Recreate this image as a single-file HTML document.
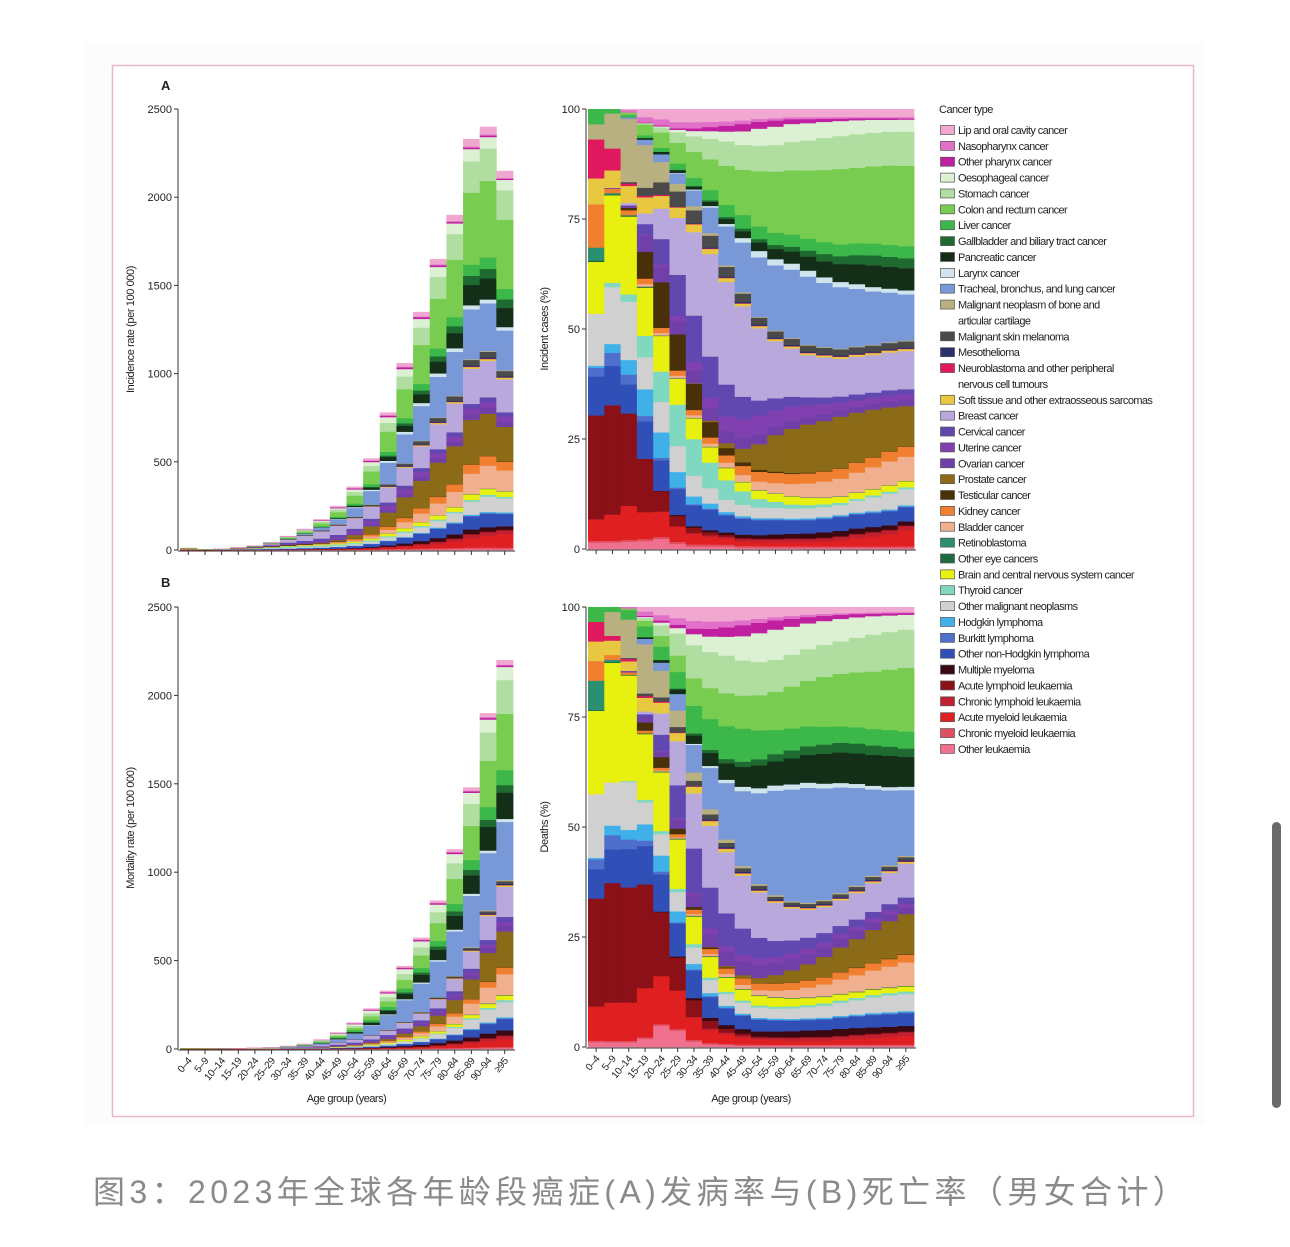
<!DOCTYPE html>
<html><head><meta charset="utf-8">
<style>
html,body{margin:0;padding:0;background:#fff;}
body{width:1290px;height:1247px;position:relative;overflow:hidden;font-family:"Liberation Sans",sans-serif;}
#cap{position:absolute;left:93px;top:1167px;font-family:"Liberation Sans","Noto Sans CJK SC",sans-serif;font-size:32px;color:#8a8a8a;letter-spacing:4.4px;white-space:nowrap;}
#sb{position:absolute;left:1272px;top:822px;width:9px;height:286px;border-radius:5px;background:#6a6a6a;}
</style></head>
<body>
<svg id="svg" width="1290" height="1247" xmlns="http://www.w3.org/2000/svg" style="position:absolute;left:0;top:0"></svg>
<div id="cap">图3：2023年全球各年龄段癌症(A)发病率与(B)死亡率（男女合计）</div>
<div id="sb"></div>
<script>
const C=["#f07090","#e05060","#e02020","#c02030","#8b1018","#3a0810","#3050b8","#4f6fcc","#40b0e8","#d0d0d0","#80d8c0","#e8f010","#1f6b40","#2a9070","#f0b090","#f08030","#4a3008","#8b6a18","#7040a8","#8040b0","#6048b0","#b8a8dc","#e8c840","#e01860","#283070","#4a4a4a","#b8b080","#7898d8","#d0e4ee","#142e18","#1e6a30","#3cb84a","#78cc50","#b0dea0","#dcf0d4","#c020a0","#e070c8","#f0a8d0"];
function f(v){return Array(20).fill(v);}
const I=[
[1.5,1.5,1.5,1.5,2,1,.5,.5,.5,.3,.3,.3,.3,.3,.3,.3,.3,.3,.3,.3],
f(.4),
[5,6,7,5,5,3,2,1.5,1.2,1,1,1,1,1,1.2,1.5,2,2.5,3,4],
[0,0,0,0,0,0,.2,.3,.4,.5,.6,.7,.8,.8,.8,.9,1,1,1,1],
[24,25,19,10,4,2,1,.6,.4,.3,.2,.2,.2,.2,.2,.2,.2,.2,.2,.2],
[0,0,0,0,.1,.2,.3,.4,.5,.7,.8,1,1.1,1.2,1.3,1.3,1.3,1.2,1.1,1],
[9,9,6,7,6,5,4,4,3.5,3.5,3.5,3.5,3.3,3.3,3.3,3.5,3.5,3.5,3.5,3.5],
[2,3,2,1,.5,.3,.2,.2,.2,.2,.2,.2,.2,.2,.2,.2,.2,.2,.2,.2],
[.5,2,3,5,5,3,1.5,1,.5,.4,.3,.3,.3,.3,.3,.3,.3,.3,.3,.3],
[12,13,12,6,6,5,4,3,2.5,2.5,2.5,2.5,2.5,2.5,2.5,2.5,3,3.5,4,4],
[0,1,1.5,4,6,8,7,5,4,3,2,1.5,1,.8,.7,.6,.5,.5,.5,.5],
[12,20,16,9,7,5,4,3,2.5,2,2,2,2,1.8,1.6,1.5,1.5,1.5,1.5,1.5],
[.3,.2,.2,.2,.1,.1,.1,.1,.1,.1,.1,.1,.1,.1,.1,.1,.1,.1,.1,.1],
[3,.3,.1,0,0,0,0,0,0,0,0,0,0,0,0,0,0,0,0,0],
[0,0,0,.5,.5,.5,.5,.6,1,1.5,2,2.5,3,3.5,4,4.5,5,5.5,6,6],
[10,1,1,1,1,1,1,1.2,1.5,2,2.3,2.5,2.5,2.5,2.5,2.5,2.5,2.5,2.5,2.5],
[0,0,.5,5,9,7,5,3,1.5,.8,.5,.3,.2,.2,.1,.1,.1,.1,.1,.1],
[0,0,0,0,0,0,.1,.3,1,3,6,9,11,12,12.5,13,12.5,12,11,10],
[0,.2,.5,3,3,2.5,2.5,2.5,2.5,2.5,2.3,2,2,1.8,1.7,1.6,1.5,1.5,1.5,1.5],
[0,0,0,.2,.5,1,1.5,2,3,4,4.5,4,3.5,3,2.5,2,1.7,1.5,1.5,1.5],
[0,0,0,2,5,8,9,8,6.5,5,3.5,3,2.5,2,1.7,1.5,1.4,1.3,1.3,1.2],
[0,0,.5,2,6,11,16,20,21,20,17,14,12,10.5,10,9.5,9.5,9.5,9.5,9.5],
[6,4,3.5,3,2.5,2,1.5,1,.8,.6,.5,.5,.5,.5,.5,.5,.5,.5,.5,.5],
[9,5,.5,.3,.2,.1,.1,.1,.1,.1,.1,.1,.1,.1,.1,.1,.1,.1,.1,.1],
[0,0,0,0,0,0,.1,.2,.2,.3,.3,.3,.3,.3,.3,.3,.3,.3,.3,.3],
[0,0,.3,1.5,2.5,3,2.5,2.3,2,1.8,1.6,1.5,1.5,1.5,1.5,1.5,1.5,1.5,1.5,1.5],
[3.5,8,13,8,4,1.5,.8,.5,.3,.3,.2,.2,.2,.2,.2,.2,.2,.2,.2,.2],
[0,0,.3,1,1.5,2,3,5,8,11,14,16,17,17,16,15.5,14.5,13.5,12.5,11.5],
[0,0,0,0,0,.1,.2,.3,.5,1,1.5,1.5,1.5,1.5,1.4,1.3,1.2,1.1,1,1],
[0,0,0,.3,.5,.5,.5,.8,1,1.5,2,2.5,3,3.5,4,4.5,5,5.5,5.5,5.5],
[0,0,0,0,0,.1,.2,.3,.4,.6,.8,1,1.2,1.5,1.8,2,2.3,2.5,2.5,2.5],
[3.5,1,.5,.5,.8,1.2,1.5,2,2.5,3,3,3,3,3,3,3,3,3,3,3],
[0,0,.5,2,3,4,5,6,8,10,13,15,16,17,18,19,19,19.5,20,20],
[0,0,0,.3,1,2,3,4,5,5.5,6,6.5,7,7.5,8,8.3,8.5,8.5,8.5,8.5],
[0,0,0,0,.2,.5,1,1.5,2,3,4,4.5,4.5,4.3,4,3.8,3.5,3.3,3,3],
[0,0,0,.1,.2,.3,.5,.8,1.2,1.6,1.6,1.5,1.2,1,.8,.6,.5,.4,.4,.3],
[0,0,.5,1,1.2,1.2,1.2,1,.9,.8,.7,.6,.5,.5,.4,.4,.3,.3,.3,.3],
[0,0,.2,1.5,2,2.5,2.5,2.5,2.5,2.5,2.3,2.2,2,2,2,2,2,2,2,2]];
const D=[
[1,1,1,1.5,4,3,1,.5,.4,.3,.3,.3,.3,.3,.3,.3,.3,.3,.3,.3],
f(.3),
[7,8,8,9,9,7,4,2.5,2,1.5,1.2,1.1,1,1,1,1.2,1.4,1.6,1.8,2],
[0,0,0,0,0,0,.2,.3,.4,.5,.5,.6,.7,.8,.8,.8,.9,.9,.9,.9],
[22,25,24,19,12,6,3,1.5,.8,.5,.3,.2,.2,.2,.2,.2,.2,.2,.2,.2],
[0,0,0,0,.1,.2,.4,.6,.8,1,1.2,1.4,1.5,1.6,1.7,1.7,1.6,1.5,1.4,1.3],
[6,7,8,7,7,6,5,4,3.5,3,2.8,2.7,2.6,2.6,2.6,2.7,2.8,3,3,3],
[2,3,2,1,.5,.2,.2,.2,.2,.2,.2,.2,.2,.2,.2,.2,.2,.2,.2,.2],
[.3,2,2,3,3,2,1,.6,.4,.3,.3,.3,.3,.3,.3,.3,.3,.3,.3,.3],
[13,9,10,4,4,3.5,3,2.5,2.5,2.5,2.5,2.5,2.6,2.8,3,3.2,3.5,3.8,4,4],
[0,0,.2,.5,.6,.6,.6,.5,.5,.5,.5,.5,.5,.5,.6,.6,.6,.6,.6,.6],
[17,25,22,12,11,9,5,4,3,2.5,2.3,2.2,2,1.8,1.6,1.5,1.4,1.3,1.2,1.2],
f(.15),
[6,.5,0,0,0,0,0,0,0,0,0,0,0,0,0,0,0,0,0,0],
[0,0,0,0,.2,.2,.3,.4,.6,.9,1.2,1.6,2,2.5,3,3.5,4,4.5,5,5.5],
[4,1,.5,.5,.5,.6,.8,1,1.2,1.5,1.7,1.8,1.8,1.8,1.8,1.8,1.8,1.8,1.8,1.8],
[0,0,0,1.5,2,1,.5,.3,.2,.1,.1,.1,.1,.1,.1,.1,.1,.1,.1,.1],
[0,0,0,0,0,0,0,.1,.3,.6,1.2,2,3,4,5,6,7,8,9,9.5],
[0,0,.3,1,1,1.5,2,2.5,3,3.2,3.2,3,2.8,2.6,2.4,2.2,2,1.8,1.6,1.5],
[0,0,0,0,.2,.4,.6,1,1.2,1.4,1.5,1.5,1.4,1.3,1.2,1.1,1,1,1,1],
[0,0,0,.5,3,6,8,8,7,6,5,4,3.3,2.8,2.4,2,1.8,1.6,1.5,1.4],
[0,0,0,.5,4,8,10,12,13,12,11,9.5,8,7,6.5,6.3,6.5,7,7.5,8],
[4,3,2,2.5,2,1.5,1.2,.9,.7,.5,.4,.4,.4,.4,.4,.4,.4,.4,.4,.4],
[4,1,.5,.3,.2,.1,.1,.1,.1,.1,.1,.1,.1,.1,.1,.1,.1,.1,.1,.1],
[0,0,0,0,0,0,0,.2,.3,.3,.3,.3,.3,.3,.3,.3,.3,.3,.3,.3],
[0,0,.2,.5,.8,1,1,1,.9,.8,.8,.7,.7,.7,.7,.7,.7,.7,.7,.7],
[0,5,8,9,5,3,1.5,1,.7,.5,.4,.4,.3,.3,.3,.3,.3,.3,.3,.3],
[0,0,0,1,1.5,3,5,8,12,17,22,26,28,29,28,26,24,21,18,15.5],
[0,0,0,0,0,0,.2,.4,.7,1,1.2,1.3,1.3,1.3,1.2,1.1,1,.9,.8,.8],
[0,0,0,.3,.5,.8,1.5,2.5,3.5,4.5,5.5,6,6.5,7,7.5,7.5,7.5,7.5,7.5,7],
[0,0,0,0,0,.2,.4,.6,.9,1.2,1.5,1.8,2,2.2,2.3,2.4,2.4,2.3,2.2,2],
[3,1,2,2,2.5,3,5,6,7,7.5,7,6,5.5,5,4.5,4,4,4,4,4],
[0,0,.3,1,2,3,5,6,7,7.5,8.5,9.5,10.5,11.5,12.5,13,13.5,14,14.5,15],
[0,0,0,.5,2,4,6,7,8,8,8,8,8,8,8,8,8.5,9,9,9],
[0,0,0,.2,.5,1,2,3,4,5.5,7,7.5,7,6.5,6,5.5,5,4.5,4,3.5],
[0,0,0,.2,.4,.6,1,1.5,2,2.5,2.5,2.3,2,1.6,1.3,1,.8,.6,.5,.4],
[0,0,.3,.8,1,1.2,1.4,1.4,1.3,1.1,1,.8,.7,.6,.5,.4,.3,.3,.3,.2],
[0,0,0,.8,1.5,2,2.5,2.8,3,3,2.8,2.5,2.2,1.9,1.7,1.5,1.4,1.3,1.2,1.2]];
const TI=[12,5,8,15,25,45,80,120,175,250,360,520,780,1060,1350,1650,1900,2330,2400,2150];
const TD=[5,4,4,5,7,10,18,30,55,95,150,230,330,470,630,840,1130,1480,1900,2200];
const ages=["0–4","5–9","10–14","15–19","20–24","25–29","30–34","35–39","40–44","45–49","50–54","55–59","60–64","65–69","70–74","75–79","80–84","85–89","90–94","≥95"];
let s='';
s+='<rect x="85" y="42" width="1120" height="1083" fill="#fcfcfc"/>';
s+='<rect x="112.5" y="65.5" width="1081" height="1051" fill="#fff" stroke="#e8b8c4" stroke-width="1.5"/>';
function T(x,y,t,o){o=o||'';s+=`<text x="${x}" y="${y}" font-size="11" fill="#222" ${o}>${t}</text>`;}
function panel(data,tot,x0,w,y0,y100,isPct,ymaxLabel,lab){
  const n=20,bw=w/n;
  for(let j=0;j<n;j++){
    let sum=0;for(let k=0;k<data.length;k++)sum+=data[k][j];
    const H=isPct?(y0-y100):(y0-y100)*tot[j]/2500;
    let acc=0;
    for(let k=0;k<data.length;k++){
      const v=data[k][j];if(v<=0)continue;
      const h=H*v/sum;
      s+=`<rect x="${(x0+j*bw).toFixed(2)}" y="${(y0-acc-h).toFixed(2)}" width="${(bw+0.4).toFixed(2)}" height="${(h+0.3).toFixed(2)}" fill="${C[k]}"/>`;
      acc+=h;
    }
  }
  s+=`<line x1="${x0-2}" y1="${y100}" x2="${x0-2}" y2="${y0}" stroke="#333" stroke-width="1"/>`;
  s+=`<line x1="${x0-2}" y1="${y0+1}" x2="${x0+w+2}" y2="${y0+1}" stroke="#333" stroke-width="1"/>`;
  const ticks=isPct?[0,25,50,75,100]:[0,500,1000,1500,2000,2500];
  ticks.forEach(t=>{const y=y0-(y0-y100)*t/(isPct?100:2500);
    s+=`<line x1="${x0-6}" y1="${y}" x2="${x0-2}" y2="${y}" stroke="#333"/>`;
    T(x0-8,y+4,t,'text-anchor="end"');});
  for(let j=0;j<n;j++){const x=x0+(j+.5)*bw;s+=`<line x1="${x}" y1="${y0+1}" x2="${x}" y2="${y0+5}" stroke="#333"/>`;}
  s+=`<text transform="translate(${x0-(isPct?40:46)},${(y0+y100)/2}) rotate(-90)" font-size="11" fill="#222" text-anchor="middle" letter-spacing="-0.4">${lab}</text>`;
}
panel(I,TI,180,333,550,109,false,2500,"Incidence rate (per 100 000)");
panel(I,TI,588,326,549,109,true,100,"Incident cases (%)");
panel(D,TD,180,333,1049,607,false,2500,"Mortality rate (per 100 000)");
panel(D,TD,588,326,1047,607,true,100,"Deaths (%)");
[[180,333,1049],[588,326,1047]].forEach(p=>{
  for(let j=0;j<20;j++){const x=p[0]+(j+.5)*p[1]/20+4;
    s+=`<text transform="translate(${x},${p[2]+12}) rotate(-50)" font-size="10" fill="#222" text-anchor="end" letter-spacing="-0.3">${ages[j]}</text>`;}
  s+=`<text x="${p[0]+p[1]/2}" y="1102" font-size="11" fill="#222" text-anchor="middle" letter-spacing="-0.5">Age group (years)</text>`;
});
s+='<text x="161" y="90" font-size="13" font-weight="bold" fill="#222">A</text>';
s+='<text x="161" y="587" font-size="13" font-weight="bold" fill="#222">B</text>';
const L=[["Lip and oral cavity cancer",37],["Nasopharynx cancer",36],["Other pharynx cancer",35],["Oesophageal cancer",34],["Stomach cancer",33],["Colon and rectum cancer",32],["Liver cancer",31],["Gallbladder and biliary tract cancer",30],["Pancreatic cancer",29],["Larynx cancer",28],["Tracheal, bronchus, and lung cancer",27],["Malignant neoplasm of bone and",26],["articular cartilage",-1],["Malignant skin melanoma",25],["Mesothelioma",24],["Neuroblastoma and other peripheral",23],["nervous cell tumours",-1],["Soft tissue and other extraosseous sarcomas",22],["Breast cancer",21],["Cervical cancer",20],["Uterine cancer",19],["Ovarian cancer",18],["Prostate cancer",17],["Testicular cancer",16],["Kidney cancer",15],["Bladder cancer",14],["Retinoblastoma",13],["Other eye cancers",12],["Brain and central nervous system cancer",11],["Thyroid cancer",10],["Other malignant neoplasms",9],["Hodgkin lymphoma",8],["Burkitt lymphoma",7],["Other non-Hodgkin lymphoma",6],["Multiple myeloma",5],["Acute lymphoid leukaemia",4],["Chronic lymphoid leukaemia",3],["Acute myeloid leukaemia",2],["Chronic myeloid leukaemia",1],["Other leukaemia",0]];
s+='<text x="939" y="113" font-size="11" fill="#222" letter-spacing="-0.5">Cancer type</text>';
L.forEach((l,i)=>{const y=130+i*15.87;
  if(l[1]>=0)s+=`<rect x="940.5" y="${y-4.5}" width="14" height="9" fill="${C[l[1]]}" stroke="#555" stroke-width="0.7"/>`;
  s+=`<text x="958" y="${y+4}" font-size="11" fill="#222" letter-spacing="-0.6">${l[0]}</text>`;});
document.getElementById('svg').innerHTML=s;
</script>
</body></html>
